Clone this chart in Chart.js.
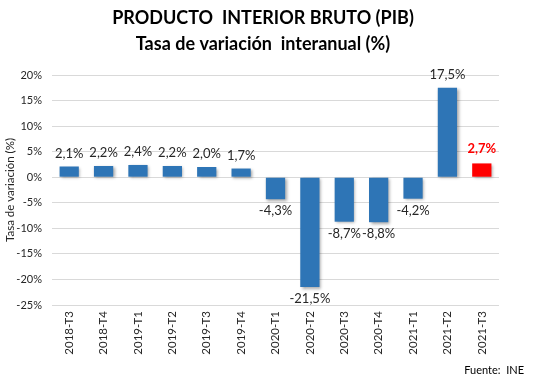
<!DOCTYPE html>
<html>
<head>
<meta charset="utf-8">
<script src="https://cdn.jsdelivr.net/npm/chart.js@4"></script>
<style>
html,body{margin:0;padding:0;background:#fff;}
#wrap{width:537px;height:379px;position:relative;}
</style>
</head>
<body>
<div id="wrap"><canvas id="c" width="537" height="379"></canvas></div>
<script>
const categories = ["2018-T3","2018-T4","2019-T1","2019-T2","2019-T3","2019-T4","2020-T1","2020-T2","2020-T3","2020-T4","2021-T1","2021-T2","2021-T3"];
const values = [2.1, 2.2, 2.4, 2.2, 2.0, 1.7, -4.3, -21.5, -8.7, -8.8, -4.2, 17.5, 2.7];
const barColors = ["#2E75B6","#2E75B6","#2E75B6","#2E75B6","#2E75B6","#2E75B6","#2E75B6","#2E75B6","#2E75B6","#2E75B6","#2E75B6","#2E75B6","#FF0000"];
const titleLines = ["PRODUCTO  INTERIOR BRUTO (PIB)", "Tasa de variación  interanual (%)"];
const yAxisTitle = "Tasa de variación (%)";
const sourceText = "Fuente:  INE";
const yMin = -25, yMax = 20, yStep = 5;

const FONT = "Lato, 'Open Sans', sans-serif";

const fmt = v => v.toFixed(1).replace('.', ',') + '%';

const shadowPlugin = {
  id: 'shadow',
  beforeDatasetsDraw(chart) {
    const ctx = chart.ctx;
    ctx.save();
    ctx.shadowColor = 'rgba(0,0,0,0.35)';
    ctx.shadowBlur = 3;
    ctx.shadowOffsetX = 1.5;
    ctx.shadowOffsetY = 1.5;
  },
  afterDatasetsDraw(chart) {
    chart.ctx.restore();
  }
};

const labelsPlugin = {
  id: 'valueLabels',
  afterDatasetsDraw(chart) {
    const ctx = chart.ctx;
    const meta = chart.getDatasetMeta(0);
    ctx.save();
    ctx.textAlign = 'center';
    ctx.textBaseline = 'middle';
    meta.data.forEach((bar, i) => {
      const v = values[i];
      const last = i === values.length - 1;
      ctx.font = (last ? 'bold ' : '') + '13px ' + FONT;
      ctx.fillStyle = last ? '#FF0000' : '#262626';
      const y = v >= 0 ? bar.y - (last ? 15 : 13) : bar.y + 12;
      ctx.fillText(fmt(v), bar.x, y);
    });
    ctx.restore();
  }
};

const textPlugin = {
  id: 'texts',
  afterDraw(chart) {
    const ctx = chart.ctx;
    ctx.save();
    ctx.fillStyle = '#000';
    ctx.textAlign = 'center';
    ctx.textBaseline = 'middle';
    ctx.font = 'bold 18px ' + FONT;
    ctx.fillText(titleLines[0], 263, 18);
    ctx.fillText(titleLines[1], 263, 44);
    ctx.font = '11px ' + FONT;
    ctx.textAlign = 'right';
    ctx.fillText(sourceText, 524, 370);
    ctx.restore();
  }
};

new Chart(document.getElementById('c'), {
  type: 'bar',
  data: {
    labels: categories,
    datasets: [{
      data: values,
      backgroundColor: barColors,
      borderWidth: 0,
      categoryPercentage: 1.0,
      barPercentage: 0.56
    }]
  },
  options: {
    responsive: false,
    animation: false,
    devicePixelRatio: 1,
    layout: { padding: { left: 3, right: 38, top: 75, bottom: 20 } },
    plugins: {
      legend: { display: false },
      tooltip: { enabled: false },
      title: { display: false }
    },
    scales: {
      x: {
        grid: { display: false, drawTicks: false },
        border: { display: false },
        ticks: {
          color: '#262626',
          font: { family: FONT, size: 11.5 },
          maxRotation: 90, minRotation: 90,
          padding: 6,
          autoSkip: false
        },
        afterFit(scale) { scale.height = 54; }
      },
      y: {
        min: yMin, max: yMax,
        grid: { color: '#D9D9D9', drawTicks: false },
        border: { display: false },
        ticks: {
          stepSize: yStep,
          color: '#262626',
          font: { family: FONT, size: 11 },
          padding: 10,
          callback: v => v + '%'
        },
        title: {
          display: true,
          text: yAxisTitle,
          color: '#262626',
          font: { family: FONT, size: 11.5 },
          padding: 0
        },
        afterFit(scale) { scale.width = 49; }
      }
    }
  },
  plugins: [shadowPlugin, labelsPlugin, textPlugin]
});
</script>
</body>
</html>
